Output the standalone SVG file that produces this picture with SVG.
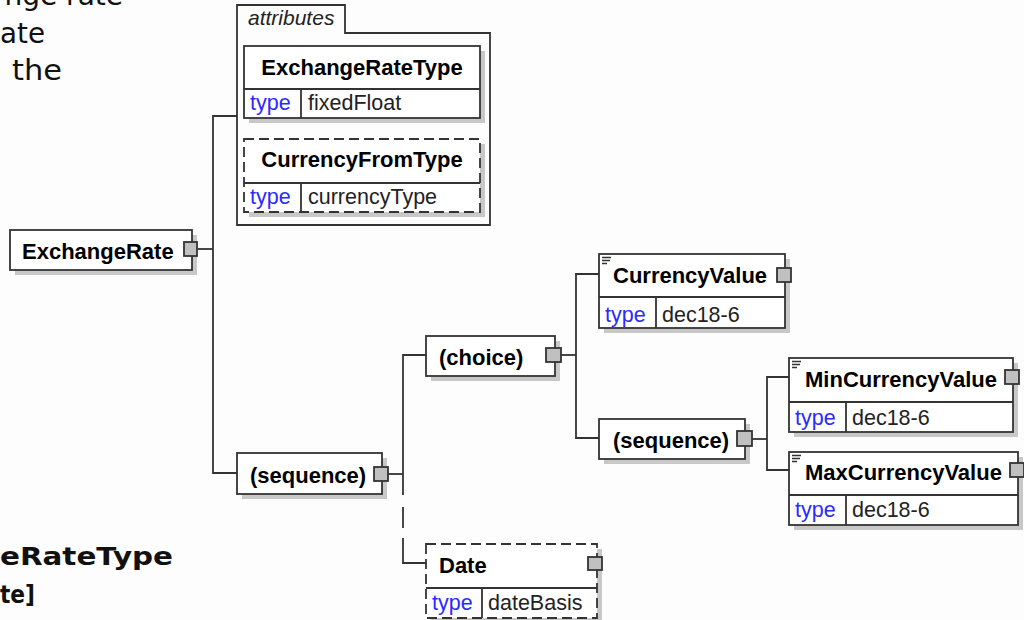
<svg xmlns="http://www.w3.org/2000/svg" width="1024" height="620" viewBox="0 0 1024 620">
<style>
.bg{fill:#fdfdfd}
.box{fill:#fff;stroke:#333;stroke-width:1.8}
.dash{stroke-dasharray:10 5}
.sh{fill:#c8c8c8}
.sq{fill:#c0c0c0;stroke:#333;stroke-width:1.8}
.ln{fill:none;stroke:#333;stroke-width:1.8}
.nm{font-family:"Liberation Sans",Arial,sans-serif;font-size:22px;font-weight:bold;fill:#000}
.ty{font-family:"Liberation Sans",Arial,sans-serif;font-size:21.5px;fill:#2a2aff}
.val{font-family:"Liberation Sans",Arial,sans-serif;font-size:21.5px;fill:#222}
.at{font-family:"Liberation Sans",Arial,sans-serif;font-size:21px;font-style:italic;fill:#222}
.doc{font-family:"DejaVu Sans",Verdana,sans-serif;font-size:28px;fill:#111}
.docb{font-family:"DejaVu Sans",Verdana,sans-serif;font-size:24px;font-weight:bold;fill:#111}
.ic{stroke:#333;stroke-width:1.5}
</style>
<rect class="bg" x="0" y="0" width="1024" height="620"/>

<g id="doc-text">
<text class="doc" x="123" y="5" text-anchor="end">nge rate</text>
<text class="doc" x="0" y="43" textLength="45" lengthAdjust="spacingAndGlyphs">ate</text>
<text class="doc" x="12" y="80" textLength="50" lengthAdjust="spacingAndGlyphs">the</text>
<text class="docb" x="0" y="565" textLength="173" lengthAdjust="spacingAndGlyphs">eRateType</text>
<text class="docb" x="0" y="603" textLength="35" lengthAdjust="spacingAndGlyphs">te]</text>
</g>

<g id="connectors">
<path class="ln" d="M198,249 H213"/>
<path class="ln" d="M237,116 H213 V473 H237"/>
<path class="ln" d="M388,474 H403"/>
<path class="ln" d="M426,355 H403 V495"/>
<path class="ln" d="M403,507 V528"/>
<path class="ln" d="M403,538 V563 H426"/>
<path class="ln" d="M561,355 H576"/>
<path class="ln" d="M599,274 H576 V438 H599"/>
<path class="ln" d="M752,439 H767"/>
<path class="ln" d="M789,377 H767 V470 H789"/>
</g>

<g id="ExchangeRate">
<rect class="sh" x="15" y="235" width="182" height="40"/>
<rect class="box" x="10" y="230" width="182" height="40"/>
<text class="nm" x="22" y="259">ExchangeRate</text>
<rect class="sq" x="184" y="242" width="13" height="14"/>
</g>

<g id="attributes">
<path class="ln" d="M237,33 V5 H345 V33 H490 V225 H237 Z"/>
<text class="at" x="248" y="25">attributes</text>
</g>

<g id="ExchangeRateType">
<rect class="sh" x="249" y="51" width="236" height="72"/>
<rect class="box" x="244" y="46" width="236" height="72"/>
<path class="ln" d="M244,89 H480 M301,89 V118"/>
<text class="nm" x="362" y="75" text-anchor="middle">ExchangeRateType</text>
<text class="ty" x="250" y="110">type</text>
<text class="val" x="308" y="110">fixedFloat</text>
</g>

<g id="CurrencyFromType">
<rect class="sh" x="249" y="144" width="236" height="73"/>
<rect class="box dash" x="244" y="139" width="236" height="73"/>
<path class="ln" d="M244,183 H480 M301,183 V212"/>
<text class="nm" x="362" y="167" text-anchor="middle">CurrencyFromType</text>
<text class="ty" x="250" y="204">type</text>
<text class="val" x="308" y="204">currencyType</text>
</g>

<g id="sequence1">
<rect class="sh" x="242" y="458" width="145" height="41"/>
<rect class="box" x="237" y="453" width="145" height="41"/>
<text class="nm" x="250" y="483">(sequence)</text>
<rect class="sq" x="374" y="467" width="14" height="14"/>
</g>

<g id="choice">
<rect class="sh" x="431" y="341" width="129" height="40"/>
<rect class="box" x="426" y="336" width="129" height="40"/>
<text class="nm" x="439" y="365">(choice)</text>
<rect class="sq" x="546" y="348" width="15" height="14"/>
</g>

<g id="CurrencyValue">
<rect class="sh" x="604" y="259" width="186" height="74"/>
<rect class="box" x="599" y="254" width="186" height="74"/>
<path class="ln" d="M599,297 H785 M656,297 V328"/>
<path class="ic" d="M602,257.5 H611 M602,260.5 H610 M602,263.5 H607"/>
<text class="nm" x="613" y="283">CurrencyValue</text>
<text class="ty" x="605" y="322">type</text>
<text class="val" x="662" y="322">dec18-6</text>
<rect class="sq" x="777" y="268" width="14" height="14"/>
</g>

<g id="sequence2">
<rect class="sh" x="604" y="424" width="146" height="40"/>
<rect class="box" x="599" y="419" width="146" height="40"/>
<text class="nm" x="613" y="448">(sequence)</text>
<rect class="sq" x="737" y="431" width="15" height="15"/>
</g>

<g id="MinCurrencyValue">
<rect class="sh" x="794" y="363" width="224" height="74"/>
<rect class="box" x="789" y="358" width="224" height="74"/>
<path class="ln" d="M789,402 H1013 M846,402 V432"/>
<path class="ic" d="M792,361.5 H801 M792,364.5 H800 M792,367.5 H797"/>
<text class="nm" x="805" y="387">MinCurrencyValue</text>
<text class="ty" x="795" y="425">type</text>
<text class="val" x="852" y="425">dec18-6</text>
<rect class="sq" x="1005" y="370" width="14" height="14"/>
</g>

<g id="MaxCurrencyValue">
<rect class="sh" x="794" y="457" width="229" height="73"/>
<rect class="box" x="789" y="452" width="229" height="73"/>
<path class="ln" d="M789,495 H1018 M846,495 V525"/>
<path class="ic" d="M792,455.5 H801 M792,458.5 H800 M792,461.5 H797"/>
<text class="nm" x="805" y="480">MaxCurrencyValue</text>
<text class="ty" x="795" y="517">type</text>
<text class="val" x="852" y="517">dec18-6</text>
<rect class="sq" x="1010" y="463" width="14" height="14"/>
</g>

<g id="Date">
<rect class="sh" x="431" y="549" width="171" height="74"/>
<rect class="box dash" x="426" y="544" width="171" height="74"/>
<path class="ln" d="M426,588 H597 M482,588 V618"/>
<text class="nm" x="439" y="573">Date</text>
<text class="ty" x="432" y="610">type</text>
<text class="val" x="488" y="610">dateBasis</text>
<rect class="sq" x="588" y="557" width="14" height="13"/>
</g>
</svg>
